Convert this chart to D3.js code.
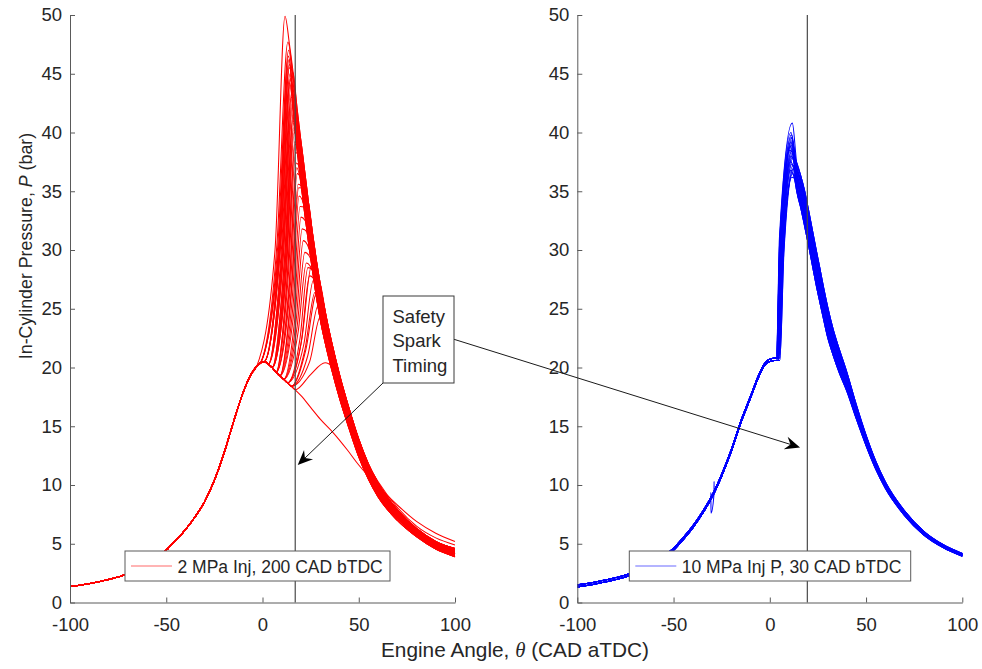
<!DOCTYPE html>
<html>
<head>
<meta charset="utf-8">
<script src="https://cdn.jsdelivr.net/npm/d3@7"></script>
<style>
  body { margin: 0; background: #fff; }
  svg text { font-family: "Liberation Sans", Arial, sans-serif; fill: #262626; }
</style>
</head>
<body>
<svg id="chart" width="982" height="669"></svg>
<script>
// ---- data ----
const xTicks = [-100, -50, 0, 50, 100];
const yTicks = [0, 5, 10, 15, 20, 25, 30, 35, 40, 45, 50];
const legendLabels = ['2 MPa Inj, 200 CAD bTDC', '10 MPa Inj P, 30 CAD bTDC'];
const noteLines = ['Safety', 'Spark', 'Timing'];
const sparkAngle = [17, 19.5];

// left panel: shared compression / motored trace (CAD, bar)
const redMotorAngle = [-100, -90, -80, -70, -60, -50, -45, -40, -35, -30, -25, -20, -15, -10, -6, -3, -1, 1, 3, 5, 7, 9, 11, 13, 15, 17];
const redMotorP = [1.35, 1.6, 1.95, 2.45, 3.25, 4.45, 5.3, 6.2, 7.3, 8.6, 10.4, 12.7, 15.4, 17.9, 19.4, 20.1, 20.4, 20.5, 20.3, 20.0, 19.6, 19.3, 19.0, 18.7, 18.4, 18.1];

// left panel: expansion bundle, traces from the upper to the lower edge of the band
const bandAngle = [14, 16, 18, 20, 22, 24, 26, 28, 30, 33, 36, 40, 45, 50, 55, 60, 70, 80, 90, 100];
const redBands = [
  [47.5, 45.0, 42.0, 39.2, 36.6, 33.9, 31.4, 29.1, 27.1, 24.4, 22.1, 19.4, 16.5, 13.9, 11.8, 10.2, 7.9, 6.3, 5.2, 4.6],
  [47.05, 44.55, 41.55, 38.75, 36.15, 33.5, 31.0, 28.75, 26.75, 24.1, 21.85, 19.15, 16.3, 13.75, 11.65, 10.05, 7.8, 6.22, 5.12, 4.52],
  [46.6, 44.1, 41.1, 38.3, 35.7, 33.1, 30.6, 28.4, 26.4, 23.8, 21.6, 18.9, 16.1, 13.6, 11.5, 9.9, 7.7, 6.15, 5.05, 4.45],
  [46.15, 43.65, 40.65, 37.85, 35.25, 32.65, 30.2, 28.0, 26.05, 23.5, 21.3, 18.65, 15.9, 13.4, 11.35, 9.75, 7.6, 6.08, 4.98, 4.38],
  [45.7, 43.2, 40.2, 37.4, 34.8, 32.2, 29.8, 27.6, 25.7, 23.2, 21.0, 18.4, 15.7, 13.2, 11.2, 9.6, 7.5, 6.0, 4.9, 4.3],
  [45.25, 42.75, 39.75, 36.95, 34.35, 31.75, 29.4, 27.2, 25.3, 22.85, 20.7, 18.15, 15.45, 13.0, 11.0, 9.45, 7.4, 5.9, 4.82, 4.22],
  [44.8, 42.3, 39.3, 36.5, 33.9, 31.3, 29.0, 26.8, 24.9, 22.5, 20.4, 17.9, 15.2, 12.8, 10.8, 9.3, 7.3, 5.8, 4.75, 4.15],
  [44.4, 41.85, 38.85, 36.05, 33.45, 30.9, 28.6, 26.4, 24.5, 22.15, 20.1, 17.65, 15.0, 12.6, 10.65, 9.15, 7.15, 5.7, 4.65, 4.02],
  [44.0, 41.4, 38.4, 35.6, 33.0, 30.5, 28.2, 26.0, 24.1, 21.8, 19.8, 17.4, 14.8, 12.4, 10.5, 9.0, 7.0, 5.6, 4.55, 3.9],
  [46.6, 44.1, 41.1, 38.3, 35.7, 33.1, 30.6, 28.4, 26.4, 23.8, 21.6, 18.9, 16.1, 13.6, 11.7, 10.3, 8.1, 6.5, 5.5, 4.9]
];

// left panel cycles: [leave angle, mid angle, mid P, peak angle, peak P, band]
const redCycles = [
  [-3, 6.5, 30.0, 11.7, 49.9, 0],
  [-1, 7.5, 30.5, 13.2, 47.7, 1],
  [-1, 8.0, 30.5, 13.6, 47.0, 2],
  [-1, 8.3, 30.0, 13.5, 46.5, 5],
  [-1, 8.8, 31.0, 14.0, 45.8, 6],
  [1, 8.5, 30.0, 13.8, 46.2, 4],
  [1, 9.0, 30.5, 14.0, 45.5, 0],
  [1, 9.5, 31.0, 14.3, 45.0, 6],
  [1, 9.2, 30.0, 14.5, 44.6, 3],
  [1, 9.8, 31.5, 14.2, 44.2, 7],
  [3, 10.0, 30.5, 14.6, 44.5, 8],
  [3, 10.5, 30.5, 14.8, 44.0, 7],
  [3, 10.2, 30.0, 15.0, 43.0, 3],
  [3, 11.0, 31.0, 15.1, 43.4, 1],
  [3, 11.0, 30.0, 15.3, 42.8, 5],
  [3, 10.8, 29.5, 15.5, 42.5, 2],
  [5, 11.5, 29.5, 15.6, 42.2, 6],
  [5, 12.0, 29.5, 15.9, 41.5, 0],
  [5, 12.3, 30.0, 16.0, 41.8, 4],
  [5, 11.8, 30.0, 15.8, 41.0, 5],
  [5, 12.5, 29.5, 16.2, 40.8, 8],
  [5, 12.5, 28.5, 16.5, 40.0, 3],
  [5, 12.0, 27.5, 16.3, 40.4, 7],
  [7, 13.0, 28.0, 16.8, 39.2, 1],
  [7, 13.2, 28.5, 17.0, 39.0, 5],
  [7, 13.5, 28.0, 17.2, 38.3, 2],
  [7, 14.0, 27.5, 17.6, 37.4, 6],
  [7, 14.5, 27.0, 18.0, 36.5, 4],
  [7, 13.8, 26.5, 17.8, 37.0, 8],
  [9, 15.0, 26.5, 18.5, 35.6, 0],
  [9, 15.2, 27.0, 18.8, 35.3, 3],
  [9, 15.5, 26.0, 19.0, 34.6, 7],
  [9, 16.0, 25.5, 19.5, 33.7, 1],
  [9, 16.5, 25.0, 20.0, 32.8, 5],
  [11, 17.0, 24.5, 20.6, 31.8, 2],
  [11, 17.5, 24.0, 21.2, 30.8, 6],
  [11, 18.0, 23.5, 22.0, 29.8, 4],
  [11, 18.5, 23.0, 22.8, 28.9, 8],
  [13, 19.5, 22.5, 23.6, 28.5, 0],
  [13, 20.0, 22.0, 24.5, 27.8, 3],
  [13, 20.5, 22.5, 25.5, 28.7, 7],
  [13, 21.5, 22.0, 26.4, 27.4, 1],
  [15, 22.0, 21.5, 27.3, 26.4, 5],
  [15, 22.5, 21.5, 28.1, 26.3, 2],
  [15, 23.5, 21.0, 29.0, 25.3, 6],
  [15, 24.5, 20.5, 30.0, 24.3, 4],
  [17, 25.0, 19.4, 32.5, 20.4, 9]
];

// left panel misfire trace after spark
const misfireAngle = [20, 25, 30, 37, 44, 50, 60, 70, 80, 90, 100];
const misfireP = [17.6, 16.6, 15.6, 14.4, 13.0, 11.7, 9.9, 8.3, 6.9, 5.9, 5.2];

// right panel: compression (two edges of the thin bundle)
const blueMotorAngle = [-100, -90, -80, -70, -60, -50, -45, -40, -35, -30, -25, -20, -15, -10, -6, -3, -1, 1, 2.5];
const blueMotorLo = [1.33, 1.6, 1.95, 2.45, 3.3, 4.45, 5.35, 6.35, 7.55, 8.95, 10.75, 12.85, 15.3, 17.4, 19.1, 20.1, 20.45, 20.55, 20.6];
const blueMotorHi = [1.5, 1.77, 2.12, 2.62, 3.47, 4.62, 5.52, 6.52, 7.72, 9.12, 10.92, 13.02, 15.47, 17.57, 19.27, 20.27, 20.62, 20.75, 20.8];

// right panel: expansion bundle, upper to lower edge
const blueBands = [
  [37.4, 36.35, 35.1, 33.5, 31.8, 30.1, 28.45, 26.75, 25.2, 23.2, 21.6, 19.6, 16.8, 14.25, 12.05, 10.28, 7.8, 6.06, 4.93, 4.17],
  [37.1, 36.0, 34.7, 33.1, 31.4, 29.7, 28.1, 26.4, 24.9, 22.9, 21.35, 19.4, 16.65, 14.15, 11.95, 10.2, 7.75, 6.02, 4.9, 4.14],
  [36.8, 35.7, 34.35, 32.75, 31.05, 29.35, 27.7, 26.1, 24.55, 22.65, 21.1, 19.2, 16.5, 14.0, 11.9, 10.15, 7.7, 5.98, 4.87, 4.11],
  [36.5, 35.35, 34.0, 32.4, 30.7, 29.0, 27.35, 25.75, 24.2, 22.4, 20.85, 19.0, 16.35, 13.9, 11.8, 10.07, 7.65, 5.94, 4.83, 4.08],
  [36.2, 35.0, 33.6, 32.0, 30.3, 28.6, 27.0, 25.4, 23.9, 22.1, 20.6, 18.8, 16.2, 13.8, 11.7, 10.0, 7.6, 5.9, 4.8, 4.05],
  [35.9, 34.65, 33.2, 31.6, 29.9, 28.2, 26.65, 25.05, 23.6, 21.8, 20.35, 18.6, 16.05, 13.7, 11.6, 9.93, 7.55, 5.86, 4.77, 4.02],
  [35.6, 34.3, 32.85, 31.25, 29.55, 27.85, 26.3, 24.7, 23.25, 21.55, 20.1, 18.4, 15.9, 13.6, 11.5, 9.86, 7.5, 5.82, 4.73, 3.99],
  [35.3, 34.0, 32.5, 30.9, 29.2, 27.5, 25.9, 24.4, 22.9, 21.3, 19.85, 18.2, 15.75, 13.45, 11.45, 9.8, 7.45, 5.78, 4.7, 3.96],
  [35.0, 33.65, 32.1, 30.5, 28.8, 27.1, 25.55, 24.05, 22.6, 21.0, 19.6, 18.0, 15.6, 13.35, 11.35, 9.72, 7.4, 5.74, 4.67, 3.93]
];

// right panel cycles: [rise start, knee angle, knee P, peak angle, peak P, band]
const blueCycles = [
  [3.5, 5.0, 31.0, 11.7, 40.8, 0],
  [3.5, 5.2, 31.0, 11.0, 40.0, 2],
  [4.0, 5.5, 31.0, 11.3, 39.8, 1],
  [4.0, 5.8, 31.0, 11.5, 39.5, 4],
  [4.0, 6.0, 31.0, 11.0, 39.2, 3],
  [4.5, 6.2, 31.0, 11.8, 39.0, 6],
  [4.5, 6.4, 31.0, 10.8, 38.8, 5],
  [3.3, 5.2, 31.0, 10.5, 38.5, 0],
  [4.0, 6.0, 30.5, 12.0, 38.3, 8],
  [4.5, 6.5, 30.5, 11.2, 38.0, 2],
  [5.0, 7.0, 30.5, 12.2, 37.8, 7],
  [4.0, 5.8, 30.5, 10.8, 37.5, 4],
  [4.5, 6.6, 30.0, 11.6, 37.3, 8],
  [5.2, 7.4, 30.0, 12.5, 37.0, 6],
  [4.0, 6.0, 30.0, 11.0, 36.8, 7],
  [4.5, 6.8, 30.0, 12.0, 36.5, 8],
  [5.0, 7.0, 29.5, 11.5, 36.2, 5],
  [4.0, 6.2, 30.5, 11.8, 38.6, 3],
  [3.3, 5.4, 31.0, 11.2, 39.6, 1],
  [4.5, 6.3, 30.5, 12.3, 38.2, 4],
  [4.0, 5.9, 30.5, 11.4, 39.3, 6],
  [4.5, 6.5, 30.5, 11.9, 37.9, 0],
  [3.5, 5.3, 31.0, 11.1, 38.9, 7],
  [5.2, 7.3, 30.0, 12.1, 37.2, 2],
  [4.0, 5.7, 30.5, 11.6, 38.4, 5],
  [4.5, 6.1, 31.0, 11.3, 39.1, 3],
  [5.0, 6.9, 30.0, 12.4, 36.9, 1]
];

// sensor spike on one right-panel cycle
const spikeCycle = 6;
const spikeAngle = [-31.5, -30.65, -30.6, -30.55, -29.0, -28.95, -28.9, -28.3];
const spikeP = [8.5, 8.7, 9.35, 7.6, 9.2, 10.3, 9.3, 9.5];

// ---- build traces ----
function pairs(xs, ys) { return xs.map((t, i) => [t, ys[i]]); }

function tail(pts, bands, v, a, p) {
  bandAngle.forEach((t, i) => { if (t > a + 0.8 && bands[v][i] < p) pts.push([t, bands[v][i]]); });
  return pts;
}

function redTrace(c) {
  const [d, m, q, a, p, v] = c;
  const pts = pairs(redMotorAngle, redMotorP).filter(pt => pt[0] <= d);
  pts.push([m, q], [a, p]);
  return tail(pts, redBands, v, a, p);
}

function misfireTrace() {
  return pairs(redMotorAngle, redMotorP).concat(pairs(misfireAngle, misfireP));
}

function blueTrace(c, idx) {
  const [s, k, kp, a, p, v] = c;
  const motor = v % 2 ? blueMotorHi : blueMotorLo;
  let pts = pairs(blueMotorAngle, motor).filter(pt => pt[0] < s);
  if (idx === spikeCycle) {
    pts = pts.filter(pt => pt[0] < spikeAngle[0] || pt[0] > spikeAngle[spikeAngle.length - 1])
      .concat(pairs(spikeAngle, spikeP))
      .sort((u, w) => u[0] - w[0]);
  }
  pts.push([s, motor[motor.length - 1]], [k, kp], [a, p]);
  return tail(pts, blueBands, v, a, p);
}

// ---- chart ----
const svg = d3.select('#chart');
const y = d3.scaleLinear().domain([0, 50]).range([602.5, 15]);

const panels = [
  {
    x: d3.scaleLinear().domain([-100, 100]).range([70, 455]),
    color: '#ff0000', legendColor: '#ff6a6a',
    traces: redCycles.map(redTrace).concat([misfireTrace()]),
    spark: sparkAngle[0], label: legendLabels[0],
    legend: { x: 125, w: 265 }
  },
  {
    x: d3.scaleLinear().domain([-100, 100]).range([577.3, 962.3]),
    color: '#0000ff', legendColor: '#6a6aff',
    traces: blueCycles.map(blueTrace),
    spark: sparkAngle[1], label: legendLabels[1],
    legend: { x: 629.3, w: 281.4 }
  }
];

panels.forEach((pn, i) => {
  const x = pn.x;
  svg.append('clipPath').attr('id', 'clip' + i)
    .append('rect')
    .attr('x', x.range()[0]).attr('y', y.range()[1] - 2)
    .attr('width', x.range()[1] - x.range()[0] + 1)
    .attr('height', y.range()[0] - y.range()[1] + 2);

  const line = d3.line()
    .x(d => x(d[0]))
    .y(d => y(d[1]))
    .curve(d3.curveMonotoneX);

  svg.append('g')
    .attr('clip-path', `url(#clip${i})`)
    .selectAll('path')
    .data(pn.traces)
    .enter().append('path')
    .attr('d', line)
    .attr('fill', 'none')
    .attr('stroke', pn.color)
    .attr('stroke-width', 1.05);

  // spark timing marker
  svg.append('line')
    .attr('x1', x(pn.spark)).attr('x2', x(pn.spark))
    .attr('y1', y(0)).attr('y2', y(50))
    .attr('stroke', '#4a4a4a')
    .attr('stroke-width', 1.2);

  // axes (MATLAB style, ticks inward, no box)
  const xAxis = svg.append('g')
    .attr('transform', `translate(0,${y(0)})`)
    .call(d3.axisBottom(x).tickValues(xTicks).tickFormat(d => String(d))
      .tickSizeInner(-5).tickSizeOuter(0).tickPadding(15));
  const yAxis = svg.append('g')
    .attr('transform', `translate(${x.range()[0]},0)`)
    .call(d3.axisLeft(y).tickValues(yTicks).tickFormat(d => String(d))
      .tickSizeInner(-5).tickSizeOuter(0).tickPadding(8));
  [xAxis, yAxis].forEach(ax => {
    ax.select('.domain').attr('stroke', '#5a5a5a').attr('stroke-width', 1);
    ax.selectAll('.tick line').attr('stroke', '#5a5a5a');
    ax.selectAll('.tick text').attr('font-size', 18.5).attr('fill', '#262626')
      .style('font-family', '"Liberation Sans", Arial, sans-serif');
  });

  // legend
  const lg = svg.append('g');
  lg.append('rect')
    .attr('x', pn.legend.x).attr('y', 551)
    .attr('width', pn.legend.w).attr('height', 30)
    .attr('fill', '#fff').attr('stroke', '#5a5a5a').attr('stroke-width', 1);
  lg.append('line')
    .attr('x1', pn.legend.x + 6).attr('x2', pn.legend.x + 47)
    .attr('y1', 566).attr('y2', 566)
    .attr('stroke', pn.legendColor).attr('stroke-width', 1.2);
  lg.append('text')
    .attr('x', pn.legend.x + 52.5).attr('y', 572.5)
    .attr('font-size', 17.5)
    .text(pn.label);
});

// axis titles
svg.append('text')
  .attr('transform', 'translate(32,246) rotate(-90)')
  .attr('text-anchor', 'middle')
  .attr('font-size', 17.8)
  .call(t => {
    t.append('tspan').text('In-Cylinder Pressure,  ');
    t.append('tspan').attr('font-style', 'italic').text('P');
    t.append('tspan').text(' (bar)');
  });

svg.append('text')
  .attr('x', 515).attr('y', 657)
  .attr('text-anchor', 'middle')
  .attr('font-size', 20.8)
  .call(t => {
    t.append('tspan').text('Engine Angle, ');
    t.append('tspan').attr('font-style', 'italic')
      .style('font-family', '"Liberation Serif", "DejaVu Serif", serif').text('\u03B8');
    t.append('tspan').text(' (CAD aTDC)');
  });

// annotation: text box + arrows
function arrow(x1, y1, x2, y2) {
  const dx = x2 - x1, dy = y2 - y1, len = Math.hypot(dx, dy);
  const ux = dx / len, uy = dy / len, nx = -uy, ny = ux;
  const L = 15, W = 13, N = 10;
  svg.append('line')
    .attr('x1', x1).attr('y1', y1)
    .attr('x2', x2 - ux * N).attr('y2', y2 - uy * N)
    .attr('stroke', '#1a1a1a').attr('stroke-width', 1);
  const head = [
    [x2, y2],
    [x2 - ux * L + nx * W / 2, y2 - uy * L + ny * W / 2],
    [x2 - ux * N, y2 - uy * N],
    [x2 - ux * L - nx * W / 2, y2 - uy * L - ny * W / 2]
  ];
  svg.append('path')
    .attr('d', 'M' + head.map(p => p.join(',')).join('L') + 'Z')
    .attr('fill', '#000');
}

arrow(383, 383, panels[0].x(18.3), y(11.7));
arrow(454, 339.3, panels[1].x(15.7), y(13.2));

svg.append('rect')
  .attr('x', 383).attr('y', 296)
  .attr('width', 71).attr('height', 87)
  .attr('fill', '#fff').attr('stroke', '#3a3a3a').attr('stroke-width', 1);

svg.append('g').selectAll('text')
  .data(noteLines)
  .enter().append('text')
  .attr('x', 392.5)
  .attr('y', (d, i) => 322.5 + i * 24.5)
  .attr('font-size', 18.5)
  .text(d => d);
</script>
</body>
</html>
